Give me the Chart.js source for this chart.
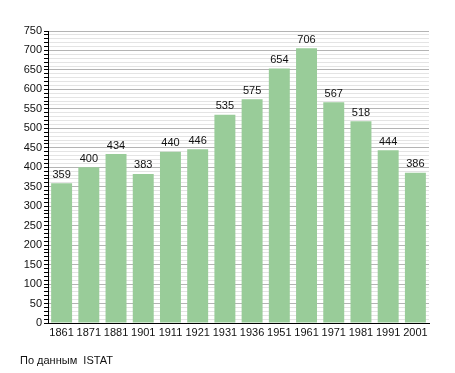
<!DOCTYPE html>
<html>
<head>
<meta charset="utf-8">
<script src="https://cdn.jsdelivr.net/npm/chart.js@4"></script>
<style>
  html, body { margin: 0; padding: 0; background: #fff; }
  #wrap { position: relative; width: 455px; height: 373px; }
  #note { position: absolute; left: 20px; top: 354px; font: 11px "Liberation Sans", Arial, sans-serif; color: #111; white-space: pre; }
</style>
</head>
<body>
<div id="wrap">
  <canvas id="grafico" width="455" height="373"></canvas>
  <div id="note">По данным  ISTAT</div>
</div>
<script>
const anni = ['1861', '1871', '1881', '1901', '1911', '1921', '1931', '1936', '1951', '1961', '1971', '1981', '1991', '2001'];
const abitanti = [359, 400, 434, 383, 440, 446, 535, 575, 654, 706, 567, 518, 444, 386];
const yMax = 750;

const FONT = '"Liberation Sans", Arial, sans-serif';

// etichette sopra le barre
const valoriPlugin = {
  id: 'valori',
  afterDatasetsDraw(chart) {
    const ctx = chart.ctx;
    const meta = chart.getDatasetMeta(0);
    ctx.save();
    ctx.font = '11px ' + FONT;
    ctx.fillStyle = '#111';
    ctx.textAlign = 'center';
    ctx.textBaseline = 'bottom';
    meta.data.forEach((bar, i) => {
      ctx.fillText(abitanti[i], bar.x, bar.y - 3);
    });
    ctx.restore();
  }
};

new Chart(document.getElementById('grafico'), {
  type: 'bar',
  data: {
    labels: anni,
    datasets: [{
      data: abitanti,
      backgroundColor: '#99cc99',
      borderWidth: 0,
      barPercentage: 0.77,
      categoryPercentage: 1
    }]
  },
  options: {
    responsive: false,
    animation: false,
    layout: { padding: { top: 31, right: 26, left: 0, bottom: 0 } },
    plugins: { legend: { display: false }, tooltip: { enabled: false } },
    scales: {
      x: {
        afterFit: s => { s.height = 50; },
        grid: { display: false, drawTicks: false },
        border: { display: true, color: '#000', width: 1 },
        ticks: { color: '#111', font: { family: FONT, size: 11 }, padding: 3, maxRotation: 0, autoSkip: false }
      },
      y: {
        min: 0,
        max: yMax,
        afterFit: s => { s.width = 48; },
        border: { display: true, color: '#000', width: 1 },
        grid: {
          color: c => (c.tick && c.tick.value % 50 === 0) ? '#b4b4b4' : '#e4e4e4',
          tickColor: '#000',
          tickLength: 4
        },
        ticks: {
          stepSize: 10,
          autoSkip: false,
          padding: 2,
          color: '#111',
          font: { family: FONT, size: 11 },
          callback: v => (v % 50 === 0 ? v : '')
        }
      }
    }
  },
  plugins: [valoriPlugin]
});
</script>
</body>
</html>
